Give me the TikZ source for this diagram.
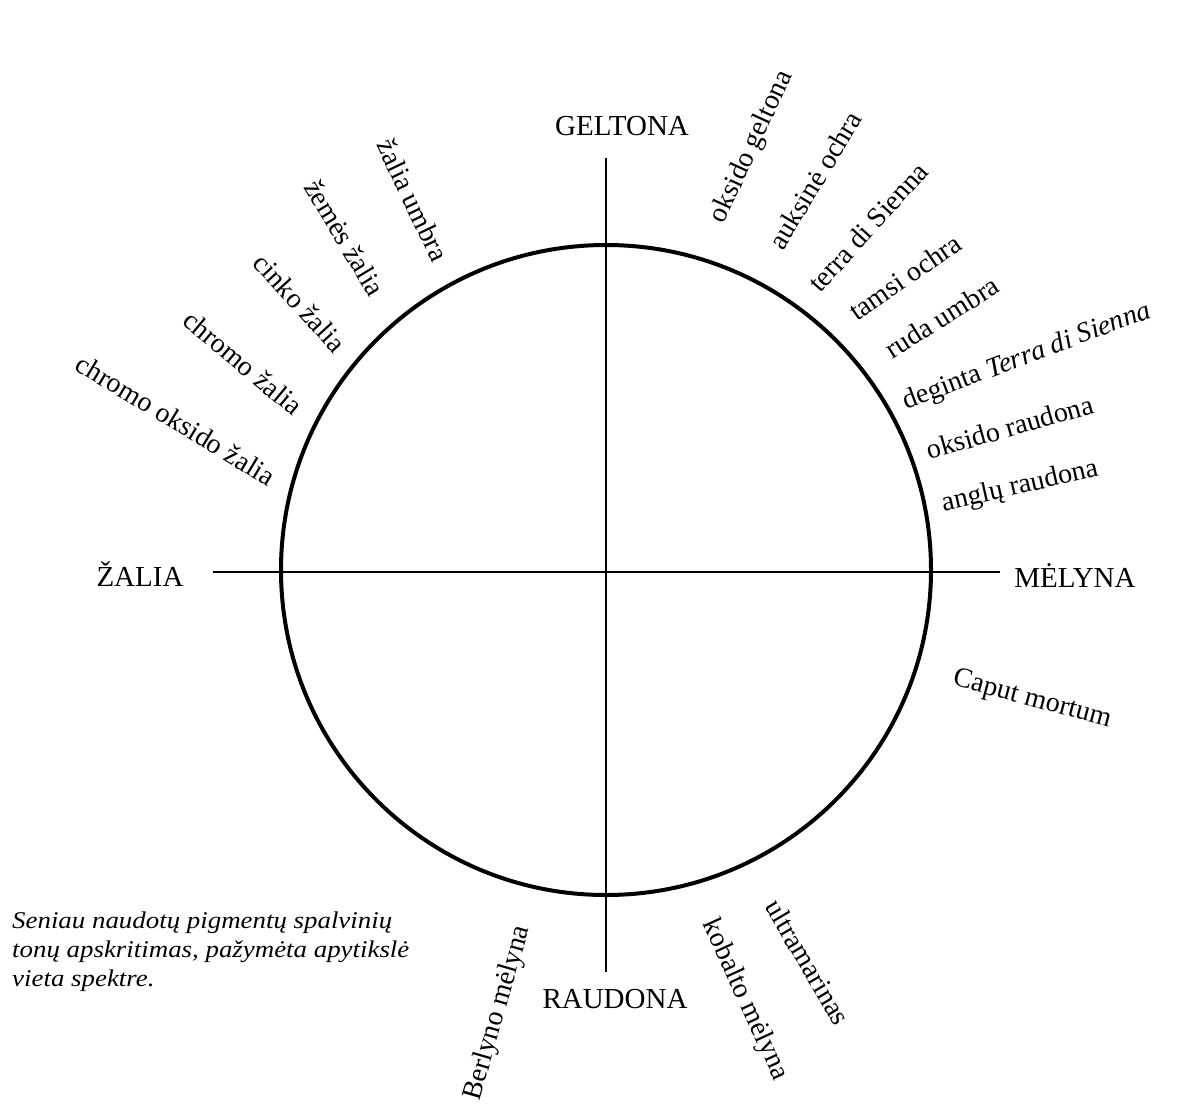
\documentclass[tikz,border=0pt]{standalone}
\usepackage{fontspec}
\setmainfont{Liberation Serif}
\newfontfamily\captfont[FakeStretch=1.12]{Liberation Serif}
\begin{document}
\begin{tikzpicture}[x=1pt,y=-1pt,
  ring/.style={line width=4pt},
  axis/.style={line width=2.8pt},
  pig/.style={font=\fontsize{28}{32}\selectfont, inner sep=0pt, anchor=center},
  pole/.style={font=\fontsize{29}{33}\selectfont, inner sep=0pt, anchor=center},
  capt/.style={font=\captfont\itshape\fontsize{24}{29}\selectfont, inner sep=0pt, align=left, anchor=north west}]
\useasboundingbox (0,0) rectangle (1199,1106);
\fill[white] (0,0) rectangle (1199,1106);
\coordinate (O) at (606,570);
\draw[ring] (O) circle[radius=325];
\coordinate (top) at (606,158);
\coordinate (bot) at (606,972);
\coordinate (left) at (213,572);
\coordinate (right) at (1000,572);
\draw[axis] (top) -- (bot);
\draw[axis] (left) -- (right);
% poles
\node[pole] (geltona) at (622,126) {GELTONA};
\node[pole] (zalia) at (140,574) {ŽALIA};
\node[pole] (melyna) at (1075,576) {MĖLYNA};
\node[pole] (raudona) at (615,999) {RAUDONA};
% upper left
\node[pig, rotate=-64.5] (zu) at (413,200) {žalia umbra};
\node[pig, rotate=-59] (zz) at (345,238) {žemės žalia};
\node[pig, rotate=-47.6] (cz) at (300,303) {cinko žalia};
\node[pig, rotate=-39.8] (chz) at (243,363) {chromo žalia};
\node[pig, rotate=-31.2] (coz) at (176,420) {chromo oksido žalia};
% upper right
\node[pig, rotate=65.4] (og) at (752,147) {oksido geltona};
\node[pig, rotate=59] (ao) at (815,180) {auksinė ochra};
\node[pig, rotate=47.8] (tds) at (868,227) {terra di Sienna};
\node[pig, rotate=34.6] (to) at (905,277) {tamsi ochra};
\node[pig, rotate=32] (ru) at (942,317) {ruda umbra};
\node[pig, rotate=20.6] (dts) at (1027,357) {deginta \textit{Terra di Sienna}};
\node[pig, rotate=15.8] (or) at (1010,427) {oksido raudona};
\node[pig, rotate=12.7] (ar) at (1020,487) {anglų raudona};
% lower right
\node[pig, rotate=-15.1] (cm) at (1032,700) {Caput mortum};
% bottom
\node[pig, rotate=73.9] (bm) at (498,1013) {Berlyno mėlyna};
\node[pig, rotate=-65.4] (km) at (745,1000) {kobalto mėlyna};
\node[pig, rotate=-59.4] (um) at (808,962) {ultramarinas};
% caption
\node[capt] (caption) at (12,912) {Seniau naudotų pigmentų spalvinių\\tonų apskritimas, pažymėta apytikslė\\vieta spektre.};
\end{tikzpicture}
\end{document}
